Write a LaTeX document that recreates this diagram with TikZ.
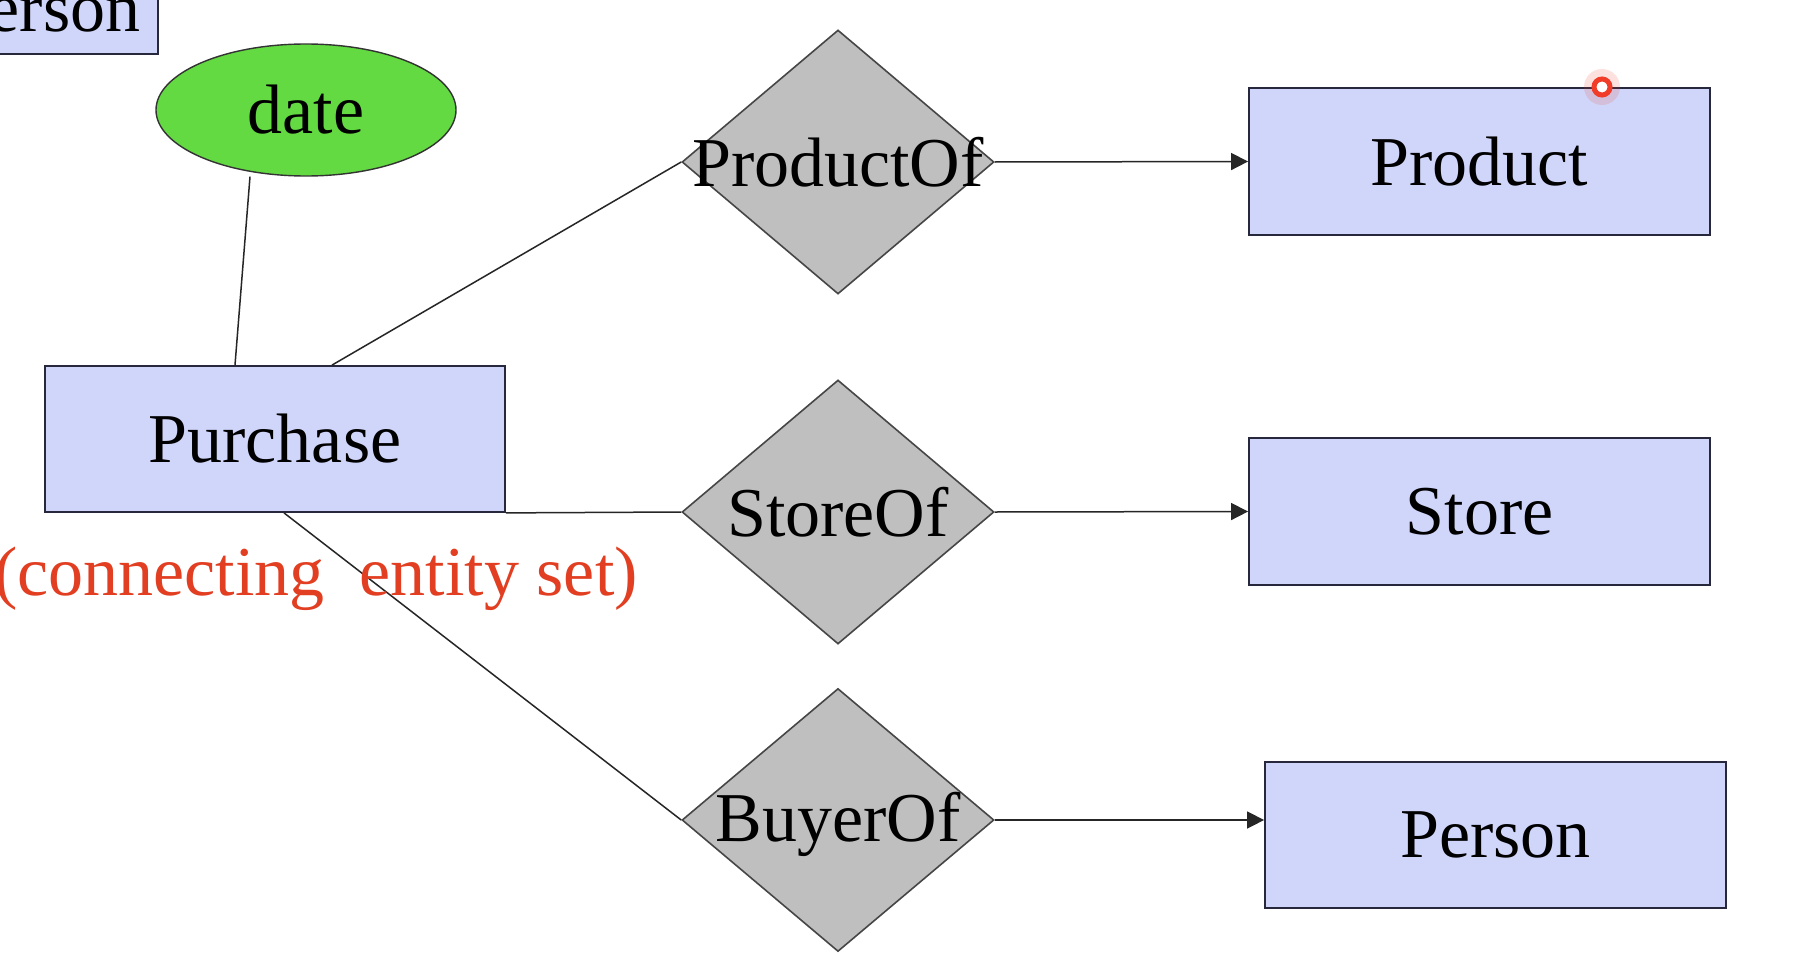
\documentclass[tikz,border=0pt]{standalone}
\usepackage{fontspec}
\setmainfont{Liberation Serif}
\usetikzlibrary{shapes.geometric,arrows.meta}
\definecolor{boxfill}{RGB}{208,214,250}
\definecolor{boxline}{RGB}{40,40,60}
\definecolor{relfill}{RGB}{191,191,191}
\definecolor{relline}{RGB}{70,70,70}
\definecolor{attrfill}{RGB}{99,217,66}
\definecolor{notered}{RGB}{226,62,33}
\definecolor{laserred}{RGB}{240,60,40}
\begin{document}
\begin{tikzpicture}[x=1pt,y=-1pt,
  every node/.style={font=\fontsize{70pt}{84pt}\selectfont},
  entity/.style={draw=boxline,fill=boxfill,line width=1.8pt,rectangle,inner sep=0pt,minimum width=460pt,minimum height=146pt},
  rel/.style={draw=relline,fill=relfill,line width=1.6pt,diamond,inner sep=0pt,minimum width=312pt,minimum height=264pt},
  reltext/.style={inner sep=0pt,text depth=0pt},
  attr/.style={draw=black!80,fill=attrfill,line width=1.4pt,ellipse,inner sep=0pt,minimum width=300pt,minimum height=132pt},
  conn/.style={line width=1.5pt,draw=black!85},
  arr/.style={conn,-{Triangle[length=17pt,width=17pt]}}
]
\useasboundingbox (0,0) rectangle (1818,966);
\fill[white] (0,0) rectangle (1818,966);

% partial box at top left
\node[entity,minimum width=226pt,minimum height=0pt,text height=78pt,text depth=22pt,anchor=base east] (persontop) at (159,32) {Person};

% attribute
\node[attr] (date) at (306,110) {date};

% entity sets
\node[entity] (pu) at (275,439) {Purchase};
\node[entity,minimum width=461pt,minimum height=147pt] (pr) at (1479.5,161.5) {Product};
\node[entity,minimum width=461pt,minimum height=147pt] (st) at (1479.5,511.5) {Store};
\node[entity,minimum width=461pt] (pe) at (1495.5,835) {Person};

% relationships
\node[rel] (po) at (838,162) {};
\node[rel] (so) at (838,512) {};
\node[rel,minimum height=263pt] (bo) at (838,820) {};

% connectors (drawn before relationship texts)
\draw[conn] ([xshift=-56pt]date.south) -- ([xshift=-40pt]pu.north);
\draw[conn] ([xshift=57pt]pu.north) -- (po.west);
\draw[conn] (pu.south east) -- (so.west);
\draw[conn] ([xshift=9pt]pu.south) -- (bo.west);
\draw[arr] (po.east) -- (pr.west);
\draw[arr] (so.east) -- (st.west);
\draw[arr] (bo.east) -- (bo.east -| pe.west);

\node[reltext] (potext) at (po) {ProductOf};
\node[reltext] (sotext) at (so) {StoreOf};
\node[reltext] (botext) at ([yshift=3pt]bo) {BuyerOf};

% note
\node[text=notered,inner sep=0pt] (note) at (316,579) {(connecting\ \ entity set)};

% pointer dot
\fill[laserred,opacity=0.15] (1602,87) circle (18pt);
\node[circle,draw=laserred,fill=white,line width=5pt,minimum size=16pt,inner sep=0pt] (laser) at (1602,87) {};
\end{tikzpicture}
\end{document}
